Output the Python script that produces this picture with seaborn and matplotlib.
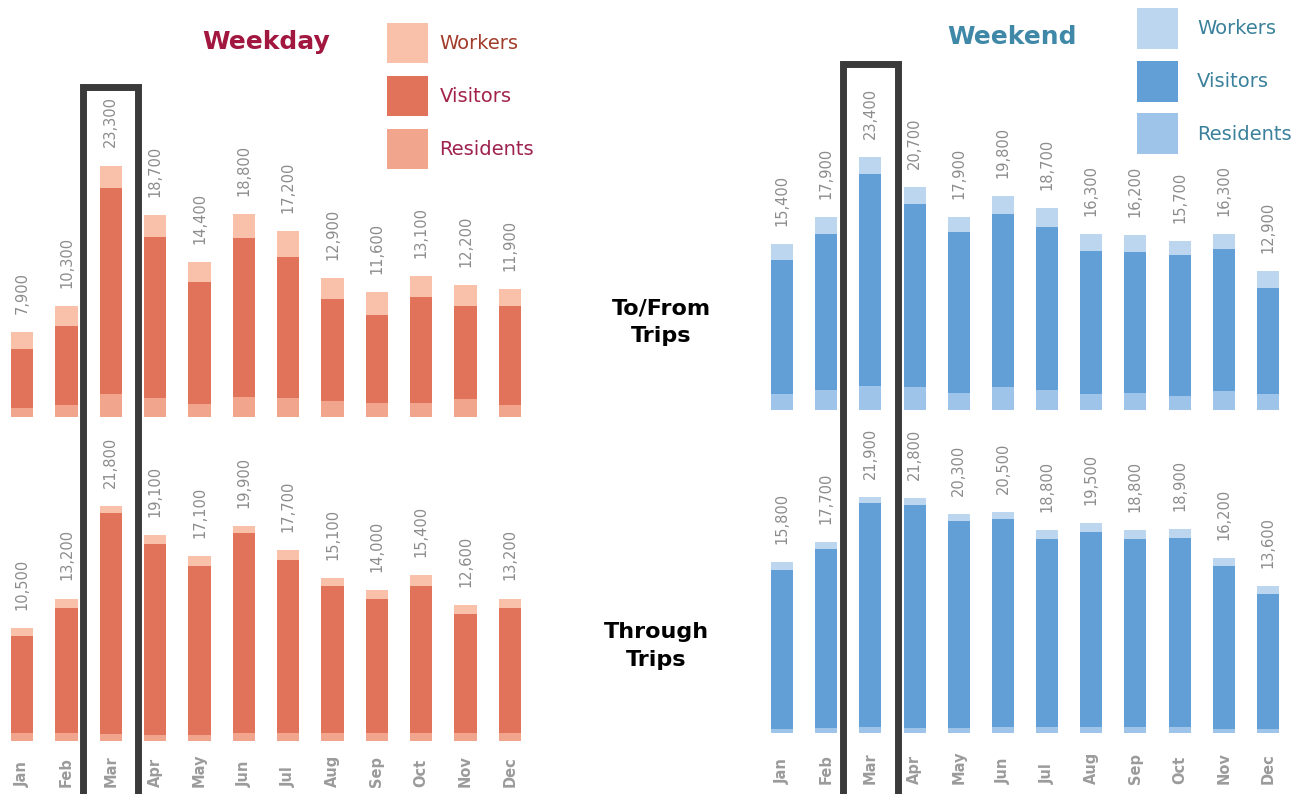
import numpy as np
import pandas as pd
import matplotlib.pyplot as plt
import seaborn as sns
from matplotlib.patches import Patch, Rectangle

sns.set_style("white")
plt.rcParams['font.family'] = ['DejaVu Sans']

# data
months = ['Jan', 'Feb', 'Mar', 'Apr', 'May', 'Jun', 'Jul', 'Aug', 'Sep', 'Oct', 'Nov', 'Dec']

# Weekday - To/From trips
wd_tf_res = [800, 1100, 2100, 1750, 1200, 1850, 1750, 1500, 1300, 1300, 1650, 1100]
wd_tf_vis = [5500, 7350, 19100, 14950, 11300, 14750, 13050, 9400, 8150, 9850, 8600, 9150]
wd_tf_wrk = [1600, 1850, 2100, 2000, 1900, 2200, 2400, 2000, 2150, 1950, 1950, 1650]

# Weekday - Through trips
wd_th_res = [750, 750, 650, 550, 550, 750, 750, 750, 750, 750, 750, 750]
wd_th_vis = [9000, 11600, 20500, 17700, 15700, 18500, 16000, 13600, 12400, 13650, 11000, 11550]
wd_th_wrk = [750, 850, 650, 850, 850, 650, 950, 750, 850, 1000, 850, 900]

# Weekend - To/From trips
we_tf_res = [1500, 1850, 2200, 2150, 1600, 2150, 1850, 1500, 1550, 1300, 1750, 1500]
we_tf_vis = [12400, 14500, 19700, 16900, 14900, 16050, 15100, 13250, 13100, 13100, 13150, 9850]
we_tf_wrk = [1500, 1550, 1500, 1650, 1400, 1600, 1750, 1550, 1550, 1300, 1400, 1550]

# Weekend - Through trips
we_th_res = [400, 450, 550, 450, 450, 550, 550, 550, 550, 550, 400, 400]
we_th_vis = [14750, 16600, 20800, 20700, 19200, 19300, 17400, 18050, 17400, 17500, 15050, 12450]
we_th_wrk = [650, 650, 550, 650, 650, 650, 850, 900, 850, 850, 750, 750]

highlight = 'Mar'

red = {'Workers': '#f9c1a9', 'Visitors': '#e0735a', 'Residents': '#f2a58d'}
blue = {'Workers': '#bcd6ef', 'Visitors': '#629fd7', 'Residents': '#9ec4ea'}

W, H = 1310, 794
fig = plt.figure(figsize=(W / 100, H / 100), dpi=100)


def px_axes(left, base, width, height):
    return fig.add_axes([left / W, (H - base) / H, width / W, height / H])


def stacked(ax, res, vis, wrk, colors, show_months, pad):
    df = pd.DataFrame({'month': months, 'res': res, 'vis': vis, 'wrk': wrk})
    df['mid'] = df['res'] + df['vis']
    df['total'] = df['mid'] + df['wrk']
    # draw cumulative layers from the tallest down
    for col, key in [('total', 'Workers'), ('mid', 'Visitors'), ('res', 'Residents')]:
        sns.barplot(data=df, x='month', y=col, color=colors[key], saturation=1, width=0.5,
                    linewidth=0, ax=ax)
    ax.bar_label(ax.containers[0], labels=[f"{v:,}" for v in df['total']], padding=13,
                 rotation=90, color='#8c8c8c', fontsize=10.5)
    ax.set_xlim(-0.5, 11.5)
    ax.set_ylim(0, 24000)
    ax.set_xlabel('')
    ax.set_ylabel('')
    ax.set_yticks([])
    ax.set_xticks(range(len(months)))
    if show_months:
        ax.set_xticklabels(months, rotation=90, fontweight='bold', color='#9b9b9b',
                           fontsize=10.5, va='bottom')
        ax.tick_params(axis='x', length=0, pad=pad)
    else:
        ax.set_xticklabels([])
        ax.tick_params(axis='x', length=0)
    sns.despine(ax=ax, left=True, bottom=True)
    ax.patch.set_alpha(0)


ax_wd_tf = px_axes(0, 417, 532, 259)
ax_wd_th = px_axes(0, 741, 532, 259)
ax_we_tf = px_axes(760, 410, 530, 259)
ax_we_th = px_axes(760, 733, 530, 259)

stacked(ax_wd_tf, wd_tf_res, wd_tf_vis, wd_tf_wrk, red, False, 0)
stacked(ax_wd_th, wd_th_res, wd_th_vis, wd_th_wrk, red, True, 33)
stacked(ax_we_tf, we_tf_res, we_tf_vis, we_tf_wrk, blue, False, 0)
stacked(ax_we_th, we_th_res, we_th_vis, we_th_wrk, blue, True, 37)

# box around the highlighted month, spanning both rows
idx = months.index(highlight)
for ax, top_px in [(ax_wd_tf, 86.5), (ax_we_tf, 63.5)]:
    x0 = fig.transFigure.inverted().transform(ax.transData.transform((idx - 0.62, 0)))[0]
    x1 = fig.transFigure.inverted().transform(ax.transData.transform((idx + 0.62, 0)))[0]
    y_top = (H - top_px) / H
    fig.patches.append(Rectangle((x0, -0.05), x1 - x0, y_top + 0.05, transform=fig.transFigure,
                                 fill=False, edgecolor='#3a3a3a', linewidth=5, clip_on=False))

# titles
fig.text(266 / W, (H - 42) / H, 'Weekday', ha='center', va='center', fontsize=18,
         fontweight='bold', color='#a2173f')
fig.text(1012 / W, (H - 37) / H, 'Weekend', ha='center', va='center', fontsize=18,
         fontweight='bold', color='#3f88a8')

# row labels
fig.text(661 / W, (H - 322) / H, 'To/From\nTrips', ha='center', va='center', fontsize=16,
         fontweight='bold', color='black', linespacing=1.5)
fig.text(656 / W, (H - 646) / H, 'Through\nTrips', ha='center', va='center', fontsize=16,
         fontweight='bold', color='black', linespacing=1.5)

# legends
cats = ['Workers', 'Visitors', 'Residents']
fig.legend(handles=[Patch(facecolor=red[c], edgecolor='none') for c in cats], labels=cats,
           loc='upper left', bbox_to_anchor=(387 / W, (H - 23) / H), frameon=False,
           fontsize=14, handlelength=2.1, handleheight=2.79, labelspacing=0.67,
           handletextpad=0.6, borderpad=0, borderaxespad=0,
           labelcolor=['#a23c2b', '#a2244a', '#9e2350'])
fig.legend(handles=[Patch(facecolor=blue[c], edgecolor='none') for c in cats], labels=cats,
           loc='upper left', bbox_to_anchor=(1137 / W, (H - 8) / H), frameon=False,
           fontsize=14, handlelength=2.1, handleheight=2.87, labelspacing=0.6,
           handletextpad=1.0, borderpad=0, borderaxespad=0,
           labelcolor=['#3b819c', '#3b819c', '#3b819c'])

fig.savefig('out.png', dpi=100)
